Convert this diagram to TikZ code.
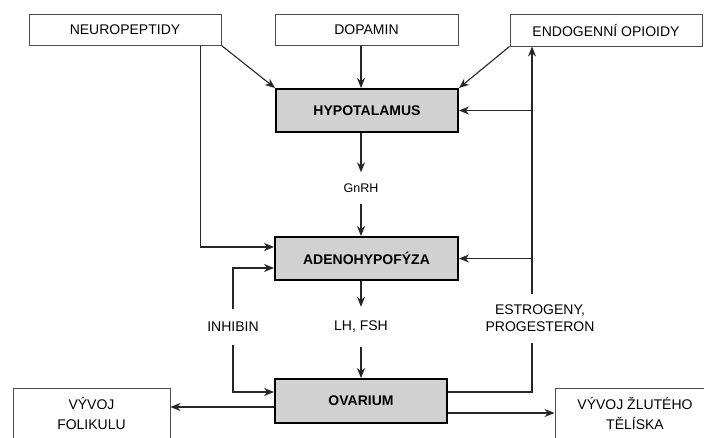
\documentclass[tikz,border=0pt]{standalone}
\usepackage{fontspec}
\setmainfont{Liberation Sans}
\usetikzlibrary{arrows.meta,calc}
\begin{document}
\begin{tikzpicture}[x=1pt,y=-1pt,
  lbl/.style={font=\fontsize{14}{20}\selectfont, text=black},
  wbox/.style={draw=black!70, line width=1pt, fill=white, lbl, inner sep=0pt, align=center},
  gbox/.style={draw=black, line width=2pt, fill=black!18, font=\fontsize{14}{16}\selectfont\bfseries, inner sep=0pt},
  conn/.style={draw=black!85, line width=1.1pt},
  arr/.style={conn, -{Stealth[length=10pt,width=8pt]}},
  txt/.style={lbl, inner sep=0pt, align=center}
]
\useasboundingbox (0,0) rectangle (704,437);
\clip (0,0) rectangle (704,437);
\fill[white] (0,0) rectangle (704,437);

% boxes
\node[wbox, minimum width=192pt, minimum height=31pt] (neuro) at (125,29.5) {NEUROPEPTIDY};
\node[wbox, minimum width=183pt, minimum height=31pt] (dopamin) at (366.5,29.5) {DOPAMIN};
\node[wbox, minimum width=192pt, minimum height=32pt] (opioidy) at (606,30) {ENDOGENNÍ OPIOIDY};
\node[gbox, minimum width=182pt, minimum height=43pt] (hypo) at (367,110.5) {HYPOTALAMUS};
\node[gbox, minimum width=183pt, minimum height=43pt] (adeno) at (366.5,258.5) {ADENOHYPOFÝZA};
\node[gbox, minimum width=172pt, minimum height=44pt] (ovarium) at (361,401) {OVARIUM};
\node[wbox, minimum width=157pt, minimum height=50pt] (folik) at (91.5,413) {VÝVOJ\\FOLIKULU};
\node[wbox, minimum width=160pt, minimum height=50pt] (zlute) at (635,413) {VÝVOJ ŽLUTÉHO\\TĚLÍSKA};

% labels
\node[txt, font=\fontsize{12.5}{15}\selectfont, minimum height=31pt] (gnrh) at (361,188) {GnRH};
\node[txt, minimum height=40pt] (lhfsh) at (361,327) {LH, FSH};
\node[txt, minimum height=35pt] (inhibin) at (233,327) {INHIBIN};
\node[txt, font=\fontsize{14}{17}\selectfont, minimum height=49pt] (estro) at (540,318.5) {ESTROGENY,\\PROGESTERON};

\coordinate (vr) at (532,0);

% connectors
\draw[arr] (neuro.south east) -- (hypo.north west);
\draw[arr] ([xshift=-21pt]neuro.south east) |- ([yshift=11.5pt]adeno.west);
\draw[arr] (dopamin.south -| gnrh) -- (hypo.north -| gnrh);
\draw[arr] (opioidy.south west) -- (hypo.north east);
\draw[arr] (hypo.south -| gnrh) -- (gnrh.north);
\draw[arr] (gnrh.south) -- (adeno.north -| gnrh);
\draw[arr] (adeno.south -| lhfsh) -- (lhfsh.north);
\draw[arr] (lhfsh.south) -- (ovarium.north -| lhfsh);
\draw[arr] (estro.north -| vr) -- (opioidy.south -| vr);
\draw[arr] (vr |- hypo.east) -- (hypo.east);
\draw[arr] (vr |- adeno.east) -- (adeno.east);
\draw[conn] ([yshift=9pt]ovarium.east) -| (estro.south -| vr);
\draw[arr] (inhibin.north) |- ([yshift=-9.5pt]adeno.west);
\draw[arr] (inhibin.south) |- ([yshift=9pt]ovarium.west);
\draw[arr] ([yshift=-6pt]ovarium.west) -- ([yshift=-6pt]ovarium.west -| folik.east);
\draw[arr] ([yshift=-12pt]ovarium.east) -- ([yshift=-12pt]ovarium.east -| zlute.west);
\end{tikzpicture}
\end{document}
